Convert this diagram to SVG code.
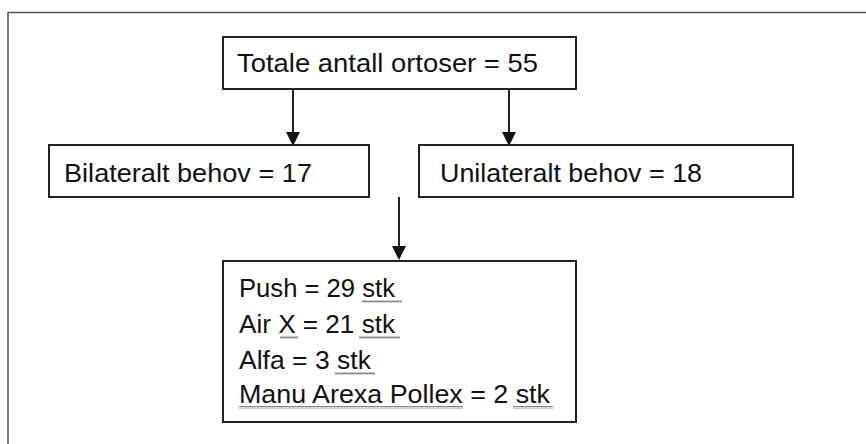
<svg xmlns="http://www.w3.org/2000/svg" width="866" height="444" viewBox="0 0 866 444">
<style>
.box{fill:#fff;stroke:#222;stroke-width:2}
.t{font-family:"Liberation Sans",Arial,sans-serif;font-size:26.5px;fill:#111}
.c{stroke:#222;stroke-width:2;fill:none}
.sq{fill:none;stroke:#888;stroke-width:1}
.ah{fill:#111}
</style>
<defs>
<pattern id="wave" width="4" height="3" patternUnits="userSpaceOnUse">
<path d="M0,2.5 L1,0.5 L2,2.5 L3,0.5 L4,2.5" class="sq"/>
</pattern>
</defs>
<rect x="8" y="12.5" width="870" height="450" fill="none" stroke="#555" stroke-width="1.5"/>
<g id="connectors">
<path class="c" d="M293,89 V134"/>
<path class="ah" d="M286,132 L300,132 L293,146 Z"/>
<path class="c" d="M509,89 V134"/>
<path class="ah" d="M502,132 L516,132 L509,146 Z"/>
<path class="c" d="M399,197 V248"/>
<path class="ah" d="M392,246 L406,246 L399,260 Z"/>
</g>
<g id="total">
<rect class="box" x="223" y="37" width="353" height="52"/>
<text class="t" x="237" y="72" textLength="301" lengthAdjust="spacingAndGlyphs">Totale antall ortoser = 55</text>
</g>
<g id="bilateral">
<rect class="box" x="49" y="145" width="320" height="52"/>
<text class="t" x="64" y="182" textLength="248" lengthAdjust="spacingAndGlyphs">Bilateralt behov = 17</text>
</g>
<g id="unilateral">
<rect class="box" x="419" y="145" width="374" height="52"/>
<text class="t" x="440" y="182" textLength="262" lengthAdjust="spacingAndGlyphs">Unilateralt behov = 18</text>
</g>
<g id="products">
<rect class="box" x="223" y="261" width="353" height="161"/>
<text class="t" x="239" y="297" textLength="156" lengthAdjust="spacingAndGlyphs">Push = 29 stk</text>
<text class="t" x="239" y="333" textLength="156" lengthAdjust="spacingAndGlyphs">Air X = 21 stk</text>
<text class="t" x="239" y="369" textLength="132" lengthAdjust="spacingAndGlyphs">Alfa = 3 stk</text>
<text class="t" x="239" y="403" textLength="311" lengthAdjust="spacingAndGlyphs">Manu Arexa Pollex = 2 stk</text>
<rect x="362" y="300" width="40" height="3" fill="url(#wave)"/>
<rect x="280" y="336" width="18" height="3" fill="url(#wave)"/>
<rect x="359" y="336" width="41" height="3" fill="url(#wave)"/>
<rect x="335" y="372" width="40" height="3" fill="url(#wave)"/>
<rect x="239" y="406" width="224" height="3" fill="url(#wave)"/>
<rect x="513" y="406" width="40" height="3" fill="url(#wave)"/>
</g>
</svg>
